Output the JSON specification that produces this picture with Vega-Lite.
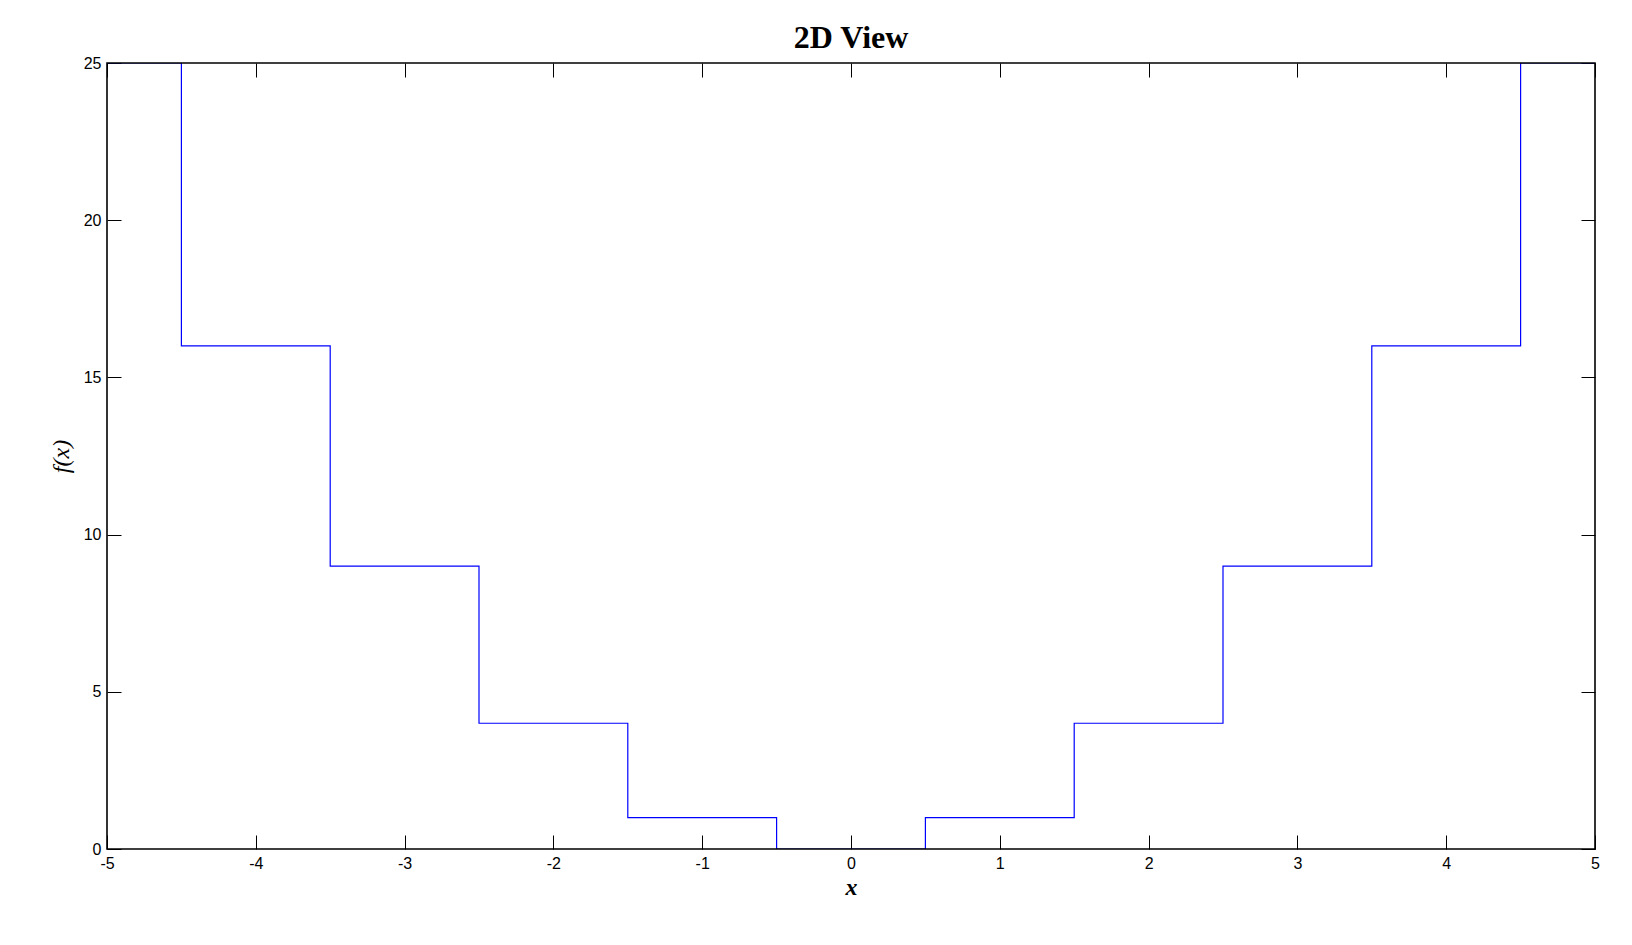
{
  "$schema": "https://vega.github.io/schema/vega-lite/v6.json",
  "width": 1488,
  "height": 786,
  "autosize": {"type": "none"},
  "padding": {"left": 107, "top": 63, "right": 37, "bottom": 96},
  "background": "white",
  "title": {"text": "2D View", "font": "Liberation Serif", "fontSize": 32, "fontWeight": "bold", "color": "black", "offset": 0, "anchor": "middle"},
  "config": {
    "view": {"stroke": null},
    "axis": {"grid": false, "domain": false, "tickColor": "black", "tickWidth": 1, "tickSize": -14, "labelFont": "Liberation Sans", "labelFontSize": 16, "labelColor": "black", "titleColor": "black", "labelFlush": false, "labelExpr": "'' + datum.value"}
  },
  "data": {"values": [
    {"i": 0, "x": -5, "y": 25}, {"i": 1, "x": -4.5, "y": 25}, {"i": 2, "x": -4.5, "y": 16},
    {"i": 3, "x": -3.5, "y": 16}, {"i": 4, "x": -3.5, "y": 9}, {"i": 5, "x": -2.5, "y": 9},
    {"i": 6, "x": -2.5, "y": 4}, {"i": 7, "x": -1.5, "y": 4}, {"i": 8, "x": -1.5, "y": 1},
    {"i": 9, "x": -0.5, "y": 1}, {"i": 10, "x": -0.5, "y": 0}, {"i": 11, "x": 0.5, "y": 0},
    {"i": 12, "x": 0.5, "y": 1}, {"i": 13, "x": 1.5, "y": 1}, {"i": 14, "x": 1.5, "y": 4},
    {"i": 15, "x": 2.5, "y": 4}, {"i": 16, "x": 2.5, "y": 9}, {"i": 17, "x": 3.5, "y": 9},
    {"i": 18, "x": 3.5, "y": 16}, {"i": 19, "x": 4.5, "y": 16}, {"i": 20, "x": 4.5, "y": 25},
    {"i": 21, "x": 5, "y": 25}
  ]},
  "resolve": {"axis": {"x": "independent", "y": "independent"}},
  "layer": [
    {
      "mark": {"type": "line", "color": "#0000FF", "strokeWidth": 1.2, "clip": true},
      "encoding": {
        "x": {"field": "x", "type": "quantitative", "scale": {"domain": [-5, 5], "nice": false, "zero": false},
          "axis": {"values": [-5,-4,-3,-2,-1,0,1,2,3,4,5], "labelPadding": 20, "title": "x", "titleFont": "Liberation Serif", "titleFontStyle": "italic", "titleFontWeight": "bold", "titleFontSize": 24, "titlePadding": 4}},
        "y": {"field": "y", "type": "quantitative", "scale": {"domain": [0, 25], "nice": false},
          "axis": {"values": [0,5,10,15,20,25], "labelPadding": 20, "title": "f(x)", "titleFont": "Liberation Serif", "titleFontStyle": "italic", "titleFontWeight": "normal", "titleFontSize": 24, "titlePadding": 10}},
        "order": {"field": "i", "type": "quantitative"}
      }
    },
    {
      "mark": {"type": "point", "opacity": 0},
      "encoding": {
        "x": {"field": "x", "type": "quantitative", "scale": {"domain": [-5, 5], "nice": false, "zero": false},
          "axis": {"orient": "top", "values": [-5,-4,-3,-2,-1,0,1,2,3,4,5], "labels": false, "title": null}},
        "y": {"field": "y", "type": "quantitative", "scale": {"domain": [0, 25], "nice": false},
          "axis": {"orient": "right", "values": [0,5,10,15,20,25], "labels": false, "title": null}}
      }
    },
    {
      "data": {"values": [{"x0": -5, "x1": 5, "y0": 0, "y1": 25}]},
      "mark": {"type": "rect", "fill": null, "fillOpacity": 0, "stroke": "black", "strokeWidth": 1.6},
      "encoding": {
        "x": {"field": "x0", "type": "quantitative", "axis": null},
        "x2": {"field": "x1"},
        "y": {"field": "y0", "type": "quantitative", "axis": null},
        "y2": {"field": "y1"}
      }
    }
  ]
}
